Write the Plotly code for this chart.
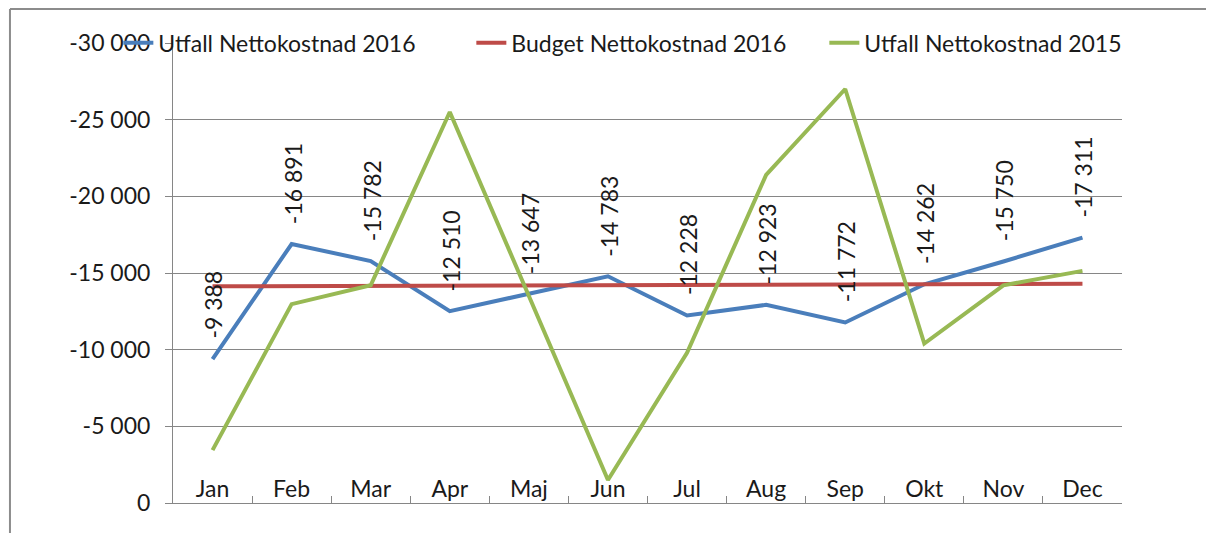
import plotly.graph_objects as go

months = ["Jan", "Feb", "Mar", "Apr", "Maj", "Jun", "Jul", "Aug", "Sep", "Okt", "Nov", "Dec"]
utfall_2016 = [-9388, -16891, -15782, -12510, -13647, -14783, -12228, -12923, -11772, -14262, -15750, -17311]
budget_2016 = [-14130, -14150, -14140, -14170, -14190, -14200, -14210, -14230, -14250, -14260, -14280, -14300]
utfall_2015 = [-3450, -12970, -14200, -25500, -13500, -1500, -9800, -21400, -27000, -10400, -14200, -15140]

y_tickvals = [0, -5000, -10000, -15000, -20000, -25000, -30000]
y_ticktext = ["0", "-5 000", "-10 000", "-15 000", "-20 000", "-25 000", "-30 000"]

FONT = "Lato"
GRAY = "#868686"
TXT = "#1a1a1a"

fig = go.Figure()
fig.add_trace(go.Scatter(x=months, y=utfall_2016, mode="lines", name="Utfall Nettokostnad 2016",
                         line=dict(color="#4A7EBB", width=4)))
fig.add_trace(go.Scatter(x=months, y=budget_2016, mode="lines", name="Budget Nettokostnad 2016",
                         line=dict(color="#BE4B48", width=4)))
fig.add_trace(go.Scatter(x=months, y=utfall_2015, mode="lines", name="Utfall Nettokostnad 2015",
                         line=dict(color="#98B954", width=4)))

def fmt(v):
    return f"{v:,}".replace(",", " ")

for m, v in zip(months, utfall_2016):
    fig.add_annotation(x=m, y=v, text=fmt(v), textangle=-90, showarrow=False,
                       xanchor="center", yanchor="bottom", yshift=18, xshift=1,
                       font=dict(family=FONT, size=23, color=TXT))

# outer chart frame (left and top edges)
fig.add_shape(type="line", xref="paper", yref="paper", x0=-0.1718, x1=-0.1718, y0=-0.1, y1=1.074,
              line=dict(color="#8c8c8c", width=2))
fig.add_shape(type="line", xref="paper", yref="paper", x0=-0.1718, x1=1.2, y0=1.074, y1=1.074,
              line=dict(color="#8c8c8c", width=2))

fig.update_layout(
    width=1214, height=525,
    margin=dict(l=165, r=100, t=35, b=30, autoexpand=False),
    paper_bgcolor="white", plot_bgcolor="white",
    font=dict(family=FONT, size=23, color=TXT),
    showlegend=True,
    legend=dict(orientation="h", x=-0.0576, y=1.0002, xanchor="left", yanchor="middle",
                bgcolor="rgba(0,0,0,0)", font=dict(family=FONT, size=23, color=TXT),
                entrywidth=308, entrywidthmode="pixels"),
    xaxis=dict(type="category", range=[-0.5, 11.5], tickson="boundaries", ticks="inside",
               ticklen=7, tickcolor=GRAY, showline=True, linecolor=GRAY, linewidth=1,
               ticklabelposition="outside", ticklabelstandoff=-35, showgrid=False,
               tickfont=dict(family=FONT, size=23, color=TXT)),
    yaxis=dict(range=[0, -30000], tickvals=y_tickvals, ticktext=y_ticktext,
               showgrid=True, gridcolor=GRAY, gridwidth=1, ticks="outside", ticklen=7,
               tickcolor=GRAY, showline=True, linecolor=GRAY, linewidth=1, zeroline=False,
               ticklabelstandoff=10, tickfont=dict(family=FONT, size=23, color=TXT)),
)

fig.write_html("out.html")
